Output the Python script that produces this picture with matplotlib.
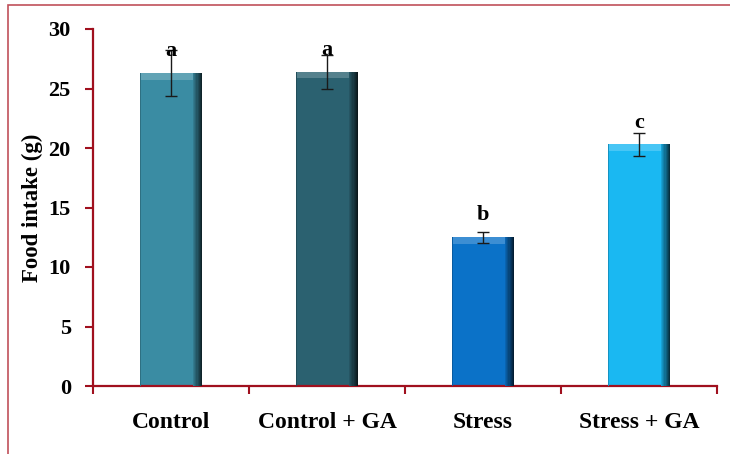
import matplotlib
matplotlib.use("Agg")
import matplotlib.pyplot as plt
from matplotlib.patches import Rectangle
from matplotlib.colors import to_rgb
import numpy as np

categories = ["Control", "Control + GA", "Stress", "Stress + GA"]
values = [26.3, 26.4, 12.5, 20.3]
errors = [1.9, 1.4, 0.45, 1.0]
letters = ["a", "a", "b", "c"]
colors = ["#3a8ca3", "#2b6170", "#0b72c8", "#1ab8f2"]
yticks = [0, 5, 10, 15, 20, 25, 30]

plt.rcParams['font.family'] = ['Liberation Serif', 'DejaVu Serif']
plt.rcParams['font.weight'] = 'bold'

fig = plt.figure(figsize=(7.3, 4.54), dpi=100)
fig.patch.set_facecolor('white')
# outer frame
fig.add_artist(Rectangle((8/730, -0.05), 1.2, 1 - 5/454 + 0.05, transform=fig.transFigure,
                         fill=False, edgecolor='#c0505a', linewidth=1.2))

ax = fig.add_axes([93/730, 1 - 386/454, (717 - 93)/730, (386 - 29)/454])
x = np.arange(len(categories))
w = 0.4
spine_c = '#a0101e'

def shade(c, f):
    r = np.array(to_rgb(c))
    return tuple(np.clip(r * f, 0, 1))

def lighten(c, f):
    r = np.array(to_rgb(c))
    return tuple(np.clip(r + (1 - r) * f, 0, 1))

ax.bar(x, values, width=w, color=colors, zorder=2)
# bevel: dark right edge gradient, light top
for i, (xi, v, c) in enumerate(zip(x, values, colors)):
    n = 8
    sw = 0.0075
    for k in range(n):
        left = xi + w/2 - sw*(k+1)
        ax.bar(left, v, width=sw, align='edge', color=shade(c, 0.25 + 0.09*k), zorder=3, linewidth=0)
    ax.bar(xi - w/2, v, width=0.01, align='edge', color=shade(c, 0.8), zorder=3, linewidth=0)
    ax.bar(xi - w/2 + 0.01, 0.55, bottom=v - 0.55, width=w - 0.01 - sw*n, align='edge',
           color=lighten(c, 0.2), zorder=3, linewidth=0)

ax.errorbar(x, values, yerr=errors, fmt='none', ecolor='#1a1a1a', elinewidth=1.0,
            capsize=4, capthick=1.0, zorder=4)
for xi, v, l in zip(x, values, letters):
    ax.text(xi, v + 1.0, l, ha='center', va='bottom', fontsize=16, fontweight='bold', zorder=5)

ax.set_xlim(-0.5, 3.5)
ax.set_ylim(0, 30)
ax.set_yticks(yticks)
ax.set_yticklabels([str(t) for t in yticks])
ax.set_xticks(x)
ax.set_xticklabels(categories)
ax.set_xticks(np.arange(-0.5, 4, 1), minor=True)
ax.tick_params(axis='x', which='major', length=0, pad=19, labelsize=17)
ax.tick_params(axis='x', which='minor', length=6, width=1.5, color=spine_c, direction='out')
ax.tick_params(axis='y', length=6, width=1.5, color=spine_c, pad=10, labelsize=16)
for s in ['top', 'right']:
    ax.spines[s].set_visible(False)
for s in ['left', 'bottom']:
    ax.spines[s].set_color(spine_c)
    ax.spines[s].set_linewidth(1.6)
ax.set_ylabel("Food intake (g)", fontsize=16.5, fontweight='bold', labelpad=4)

fig.savefig("out.png", dpi=100)
